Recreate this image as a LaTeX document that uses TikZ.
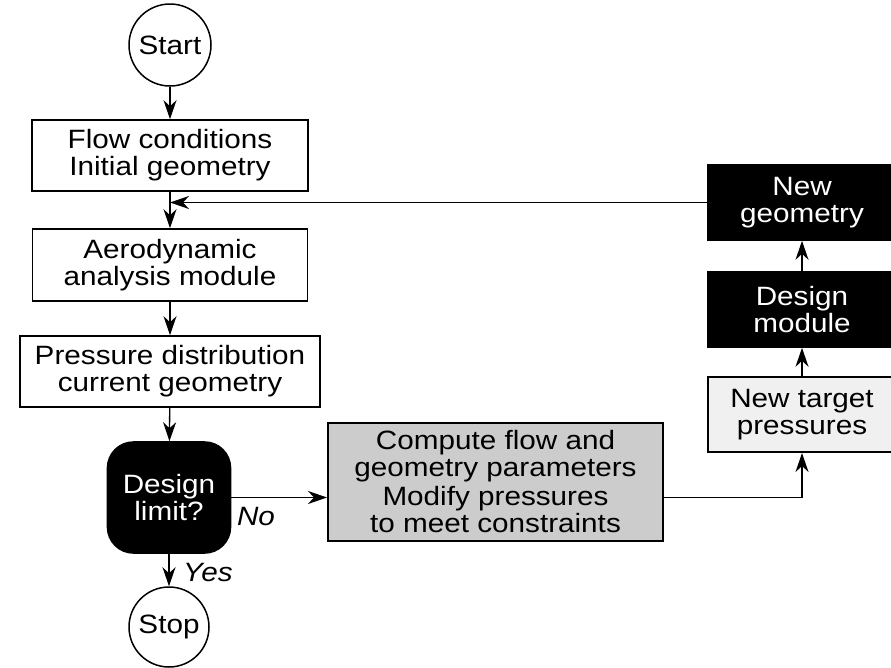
\documentclass[tikz,border=0pt]{standalone}
\usepackage{fontspec}
\setmainfont{Liberation Sans}[FakeStretch=1.12]
\usetikzlibrary{arrows.meta}
\begin{document}
\begin{tikzpicture}[x=1pt,y=-1pt,
  txt/.style={font=\fontsize{26.5}{27}\selectfont, align=center, inner sep=0pt},
  term/.style={txt, circle, draw, line width=1.5pt, minimum size=#1},
  wbox/.style={txt, rectangle, draw, line width=1.6pt},
  bbox/.style={txt, rectangle, draw, fill=black, text=white, line width=1.6pt},
  gbox/.style={txt, rectangle, draw, line width=2pt},
  arr/.style={line width=1.3pt, -{Stealth[length=19pt,width=13pt,inset=6pt]}},
  lab/.style={font=\fontsize{26.5}{27}\selectfont\itshape, inner sep=0pt}]
\useasboundingbox (0,0) rectangle (891,667);
\node[term=82pt] (start) at (170,45) {Start};
\node[wbox, minimum width=276pt, minimum height=71pt] (box1) at (170,155.5) {Flow conditions\\Initial geometry};
\node[wbox, minimum width=275pt, minimum height=72pt] (box2) at (170,265) {Aerodynamic\\analysis module};
\node[wbox, minimum width=300pt, minimum height=71pt] (box3) at (170,371.5) {Pressure distribution\\current geometry};
\node[bbox, rounded corners=26pt, minimum width=123pt, minimum height=111pt] (design) at (169,497.5) {Design\\limit?};
\node[term=80pt] (stop) at (169,627) {Stop};
\node[gbox, fill=black!20, minimum width=335pt, minimum height=118pt] (compute) at (495.5,482) {Compute flow and\\geometry parameters\\[2pt]Modify pressures\\to meet constraints};
\node[gbox, fill=black!6, minimum width=188pt, minimum height=75pt] (newtarget) at (802,414.5) {New target\\pressures};
\node[bbox, minimum width=188pt, minimum height=75pt] (designmod) at (802,309.5) {Design\\module};
\node[bbox, minimum width=188pt, minimum height=75pt] (newgeo) at (802,202.5) {New\\geometry};
\node[lab] (no) at (256,517) {No};
\node[lab] (yes) at (208,573) {Yes};
\draw[arr] (start) -- (box1);
\draw[arr] (box1) -- (box2);
\draw[arr] (box2) -- (box3);
\draw[arr] (box3) -- (design);
\draw[arr] (design) -- (stop);
\draw[arr] (design.east) -- (design.east -| compute.west);
\draw[arr] (design.east -| compute.east) -| (newtarget.south);
\draw[arr] (newtarget) -- (designmod);
\draw[arr] (designmod) -- (newgeo);
\draw[arr] (newgeo.west) -- (newgeo.west -| box1.south);
\end{tikzpicture}
\end{document}
